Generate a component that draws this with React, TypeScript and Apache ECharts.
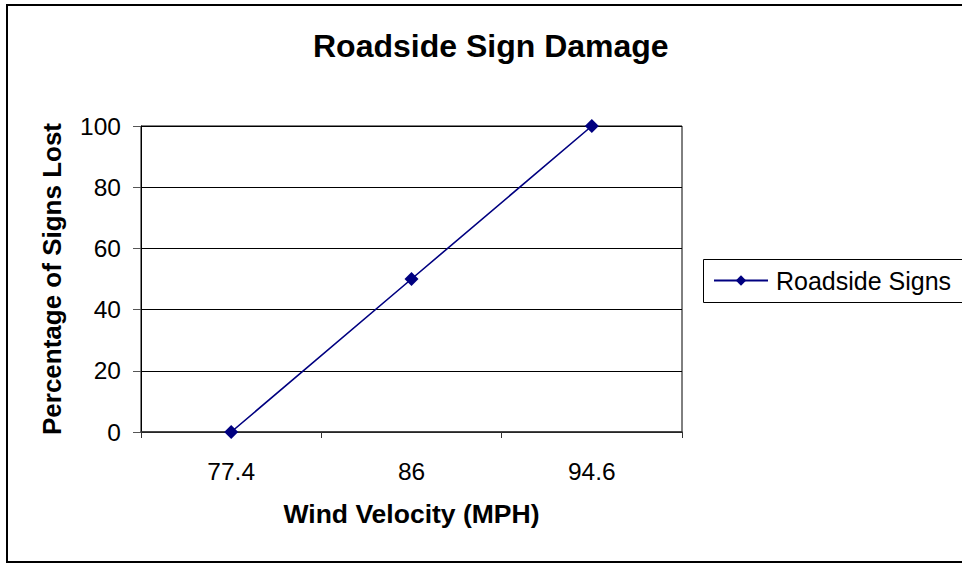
import React, { useEffect, useRef } from "react";
import * as echarts from "echarts";

const categories = ["77.4", "86", "94.6"];
const signsLost = [0, 50, 100];
const seriesName = "Roadside Signs";
const yTicks = { min: 0, max: 100, interval: 20 };

export default function App() {
  const ref = useRef<HTMLDivElement>(null);
  useEffect(() => {
    if (!ref.current) return;
    const chart = echarts.init(ref.current, null, { renderer: "svg" });
    const font = "'Liberation Sans', Arial, sans-serif";
    chart.setOption({
      animation: false,
      backgroundColor: "#fff",
      textStyle: { fontFamily: font },
      title: {
        text: "Roadside Sign Damage",
        left: 313,
        top: 30,
        padding: 0,
        textStyle: { fontSize: 32, fontWeight: "bold", color: "#000", fontFamily: font },
      },
      graphic: [
        {
          type: "rect",
          shape: { x: 7, y: 5, width: 980, height: 557 },
          style: { fill: "none", stroke: "#000", lineWidth: 2 },
          silent: true,
        },
        {
          type: "rect",
          shape: { x: 703.5, y: 259.5, width: 300, height: 43 },
          style: { fill: "none", stroke: "#000", lineWidth: 1 },
          silent: true,
        },
      ],
      legend: {
        left: 703,
        top: 259,
        orient: "vertical",
        padding: [9, 10, 9, 10],
        borderWidth: 0,
        itemWidth: 54,
        itemHeight: 13,
        textStyle: { fontSize: 25, color: "#000", fontFamily: font, padding: [0, 0, 0, 3] },
        data: [seriesName],
      },
      grid: {
        left: 141,
        top: 126,
        width: 541,
        height: 306,
        show: true,
        borderColor: "#000",
        borderWidth: 1,
        backgroundColor: "transparent",
        containLabel: false,
      },
      xAxis: {
        type: "category",
        data: categories,
        boundaryGap: true,
        name: "Wind Velocity (MPH)",
        nameLocation: "middle",
        nameGap: 68,
        nameTextStyle: { fontSize: 26.5, fontWeight: "bold", color: "#000", fontFamily: font },
        axisLine: { lineStyle: { color: "#333", width: 1.5 } },
        axisTick: { show: true, alignWithLabel: false, length: 6, lineStyle: { color: "#333" } },
        axisLabel: { fontSize: 24.5, color: "#000", margin: 27, fontFamily: font },
        splitLine: { show: false },
      },
      yAxis: {
        type: "value",
        min: yTicks.min,
        max: yTicks.max,
        interval: yTicks.interval,
        name: "Percentage of Signs Lost",
        nameLocation: "middle",
        nameGap: 76,
        nameTextStyle: { fontSize: 26, fontWeight: "bold", color: "#000", fontFamily: font },
        axisLine: { show: true, lineStyle: { color: "#000", width: 1 } },
        axisTick: { show: true, length: 8, lineStyle: { color: "#555" } },
        axisLabel: { fontSize: 24.5, color: "#000", margin: 20, fontFamily: font },
        splitLine: { show: true, lineStyle: { color: "#000", width: 1 } },
      },
      series: [
        {
          name: seriesName,
          type: "line",
          data: signsLost,
          symbol: "diamond",
          symbolSize: 14,
          showAllSymbol: true,
          lineStyle: { color: "#000080", width: 1.6 },
          itemStyle: { color: "#000080" },
        },
      ],
    });
    return () => chart.dispose();
  }, []);
  return (
    <div
      ref={ref}
      style={{ position: "fixed", left: 0, top: 0, width: 962, height: 564 }}
    />
  );
}
